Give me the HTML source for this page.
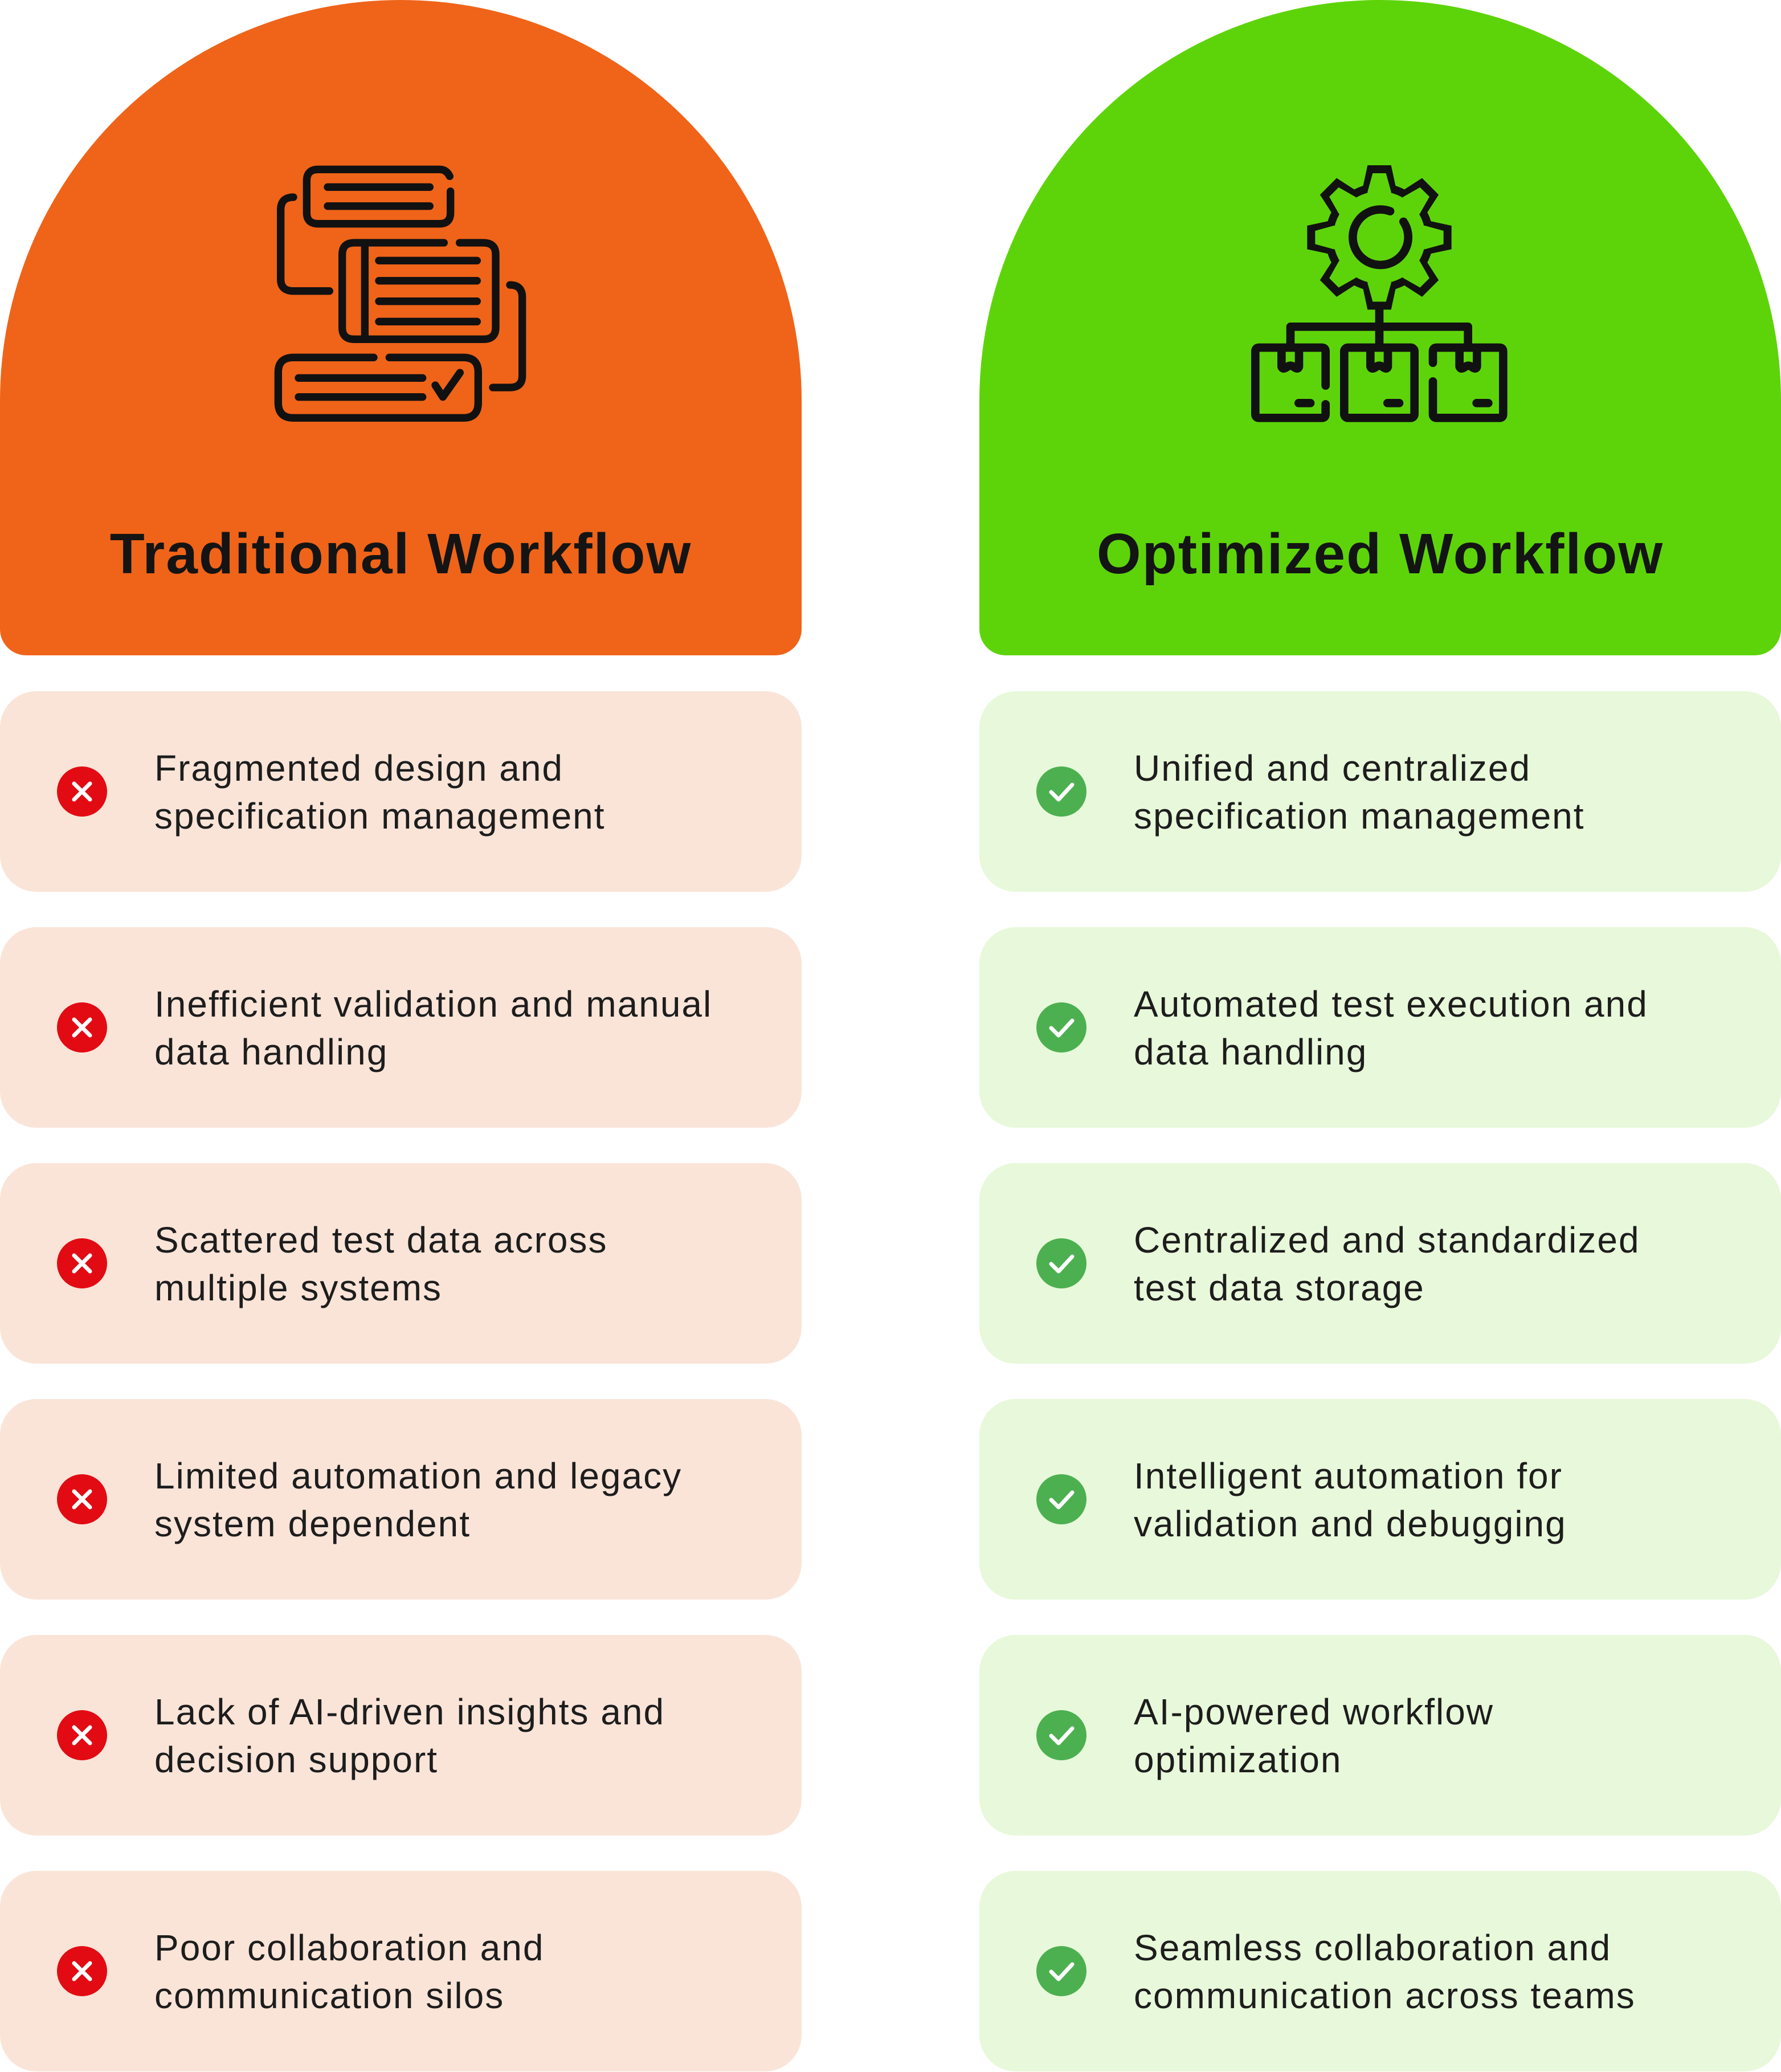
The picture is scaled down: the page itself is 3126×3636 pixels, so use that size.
<!DOCTYPE html>
<html><head><meta charset="utf-8"><style>
html,body{margin:0;padding:0;background:#fff;}
body{width:3126px;height:3636px;position:relative;overflow:hidden;font-family:"Liberation Sans",sans-serif;}
.hdr{position:absolute;top:0;width:1407px;height:1150px;border-radius:703px 703px 46px 46px;}
.title{position:absolute;top:915px;width:1407px;text-align:center;font-weight:bold;font-size:100px;color:#141414;letter-spacing:2px;}
.row{position:absolute;width:1407px;height:352px;border-radius:64px;}
.row .t{position:absolute;left:271px;top:93px;font-size:64px;line-height:84px;color:#1d1d1d;letter-spacing:2px;}
.row svg{position:absolute;left:100px;top:132px;}
</style></head><body>
<div class="hdr" style="left:0;background:#EF6419"></div>
<div class="hdr" style="left:1719px;background:#5DD40A"></div>
<div class="title" style="left:0">Traditional Workflow</div>
<div class="title" style="left:1719px">Optimized Workflow</div>

<svg style="position:absolute;left:470px;top:270px" width="480" height="480" viewBox="0 0 1440 1440" fill="none" stroke="#111" stroke-width="40" stroke-linecap="round" stroke-linejoin="round">
<path d="M958,118 Q940,82 905,82 H265 Q205,82 205,142 V310 Q205,368 265,368 H905 Q962,368 962,310 V197"/>
<path d="M315,175 H853 M315,275 H853"/>
<path d="M135,228 Q68,228 68,295 V660 Q68,722 135,722 H325"/>
<path d="M928,468 H455 Q392,468 392,530 V915 Q392,976 455,976 H1135 Q1200,976 1200,915 V530 Q1200,468 1135,468 H1010"/>
<path d="M511,468 V976 M585,562 H1102 M585,668 H1102 M585,776 H1102 M585,883 H1102"/>
<path d="M1275,690 Q1340,690 1340,755 V1168 Q1340,1230 1275,1230 H1185"/>
<path d="M558,1072 H135 Q55,1072 55,1150 V1310 Q55,1390 135,1390 H1030 Q1108,1390 1108,1310 V1150 Q1108,1072 1030,1072 H640"/>
<path d="M162,1180 H815 M162,1280 H815 M882,1218 L922,1280 L1012,1152"/>
</svg>

<svg style="position:absolute;left:2180px;top:270px" width="480" height="480" viewBox="0 0 1440 1440">
<g transform="translate(723,440)">
<g fill="#111">
<circle r="285"/>
<g id="tb"><polygon points="-90,-200 -90,-250 -62,-380 62,-380 90,-250 90,-200"/></g>
<use href="#tb" transform="rotate(45)"/><use href="#tb" transform="rotate(90)"/><use href="#tb" transform="rotate(135)"/><use href="#tb" transform="rotate(180)"/><use href="#tb" transform="rotate(225)"/><use href="#tb" transform="rotate(270)"/><use href="#tb" transform="rotate(315)"/>
</g>
<g fill="#5DD40A">
<circle r="243"/>
<g id="tg"><polygon points="-62,-180 -62,-240 -35,-338 35,-338 62,-240 62,-180"/></g>
<use href="#tg" transform="rotate(45)"/><use href="#tg" transform="rotate(90)"/><use href="#tg" transform="rotate(135)"/><use href="#tg" transform="rotate(180)"/><use href="#tg" transform="rotate(225)"/><use href="#tg" transform="rotate(270)"/><use href="#tg" transform="rotate(315)"/>
</g>
</g>
<g fill="none" stroke="#111" stroke-width="44" stroke-linecap="round" stroke-linejoin="round">
<path d="M780,302 A146,146 0 1 0 850,357"/>
<path d="M723,800 V1000 M255,1000 V910 H1190 V1000"/>
<path d="M440,1220 V1040 Q440,1020 420,1020 H90 Q70,1020 70,1040 V1370 Q70,1390 90,1390 H420 Q440,1390 440,1370 V1318"/>
<rect x="538" y="1020" width="370" height="370" rx="20"/>
<path d="M1005,1100 V1040 Q1005,1020 1025,1020 H1355 Q1375,1020 1375,1040 V1370 Q1375,1390 1355,1390 H1025 Q1005,1390 1005,1370 V1198"/>
<path d="M208,1030 V1120 Q215,1140 240,1120 Q255,1110 270,1120 Q295,1140 300,1120 V1030"/>
<path d="M676,1030 V1120 Q683,1140 708,1120 Q723,1110 738,1120 Q763,1140 768,1120 V1030"/>
<path d="M1145,1030 V1120 Q1152,1140 1177,1120 Q1192,1110 1207,1120 Q1232,1140 1237,1120 V1030"/>
<path d="M298,1312 H360 M766,1312 H828 M1235,1312 H1297"/>
</g>
</svg>

<!-- Left rows -->
<div class="row" style="left:0;top:1213px;background:#FAE4D8"><svg width="88" height="88" viewBox="0 0 88 88"><circle cx="44" cy="44" r="44" fill="#E20B13"/><path d="M30,30 L58,58 M58,30 L30,58" stroke="#fff" stroke-width="7" stroke-linecap="round"/></svg><div class="t">Fragmented design and<br>specification management</div></div>
<div class="row" style="left:0;top:1627px;background:#FAE4D8"><svg width="88" height="88" viewBox="0 0 88 88"><circle cx="44" cy="44" r="44" fill="#E20B13"/><path d="M30,30 L58,58 M58,30 L30,58" stroke="#fff" stroke-width="7" stroke-linecap="round"/></svg><div class="t">Inefficient validation and manual<br>data handling</div></div>
<div class="row" style="left:0;top:2041px;background:#FAE4D8"><svg width="88" height="88" viewBox="0 0 88 88"><circle cx="44" cy="44" r="44" fill="#E20B13"/><path d="M30,30 L58,58 M58,30 L30,58" stroke="#fff" stroke-width="7" stroke-linecap="round"/></svg><div class="t">Scattered test data across<br>multiple systems</div></div>
<div class="row" style="left:0;top:2455px;background:#FAE4D8"><svg width="88" height="88" viewBox="0 0 88 88"><circle cx="44" cy="44" r="44" fill="#E20B13"/><path d="M30,30 L58,58 M58,30 L30,58" stroke="#fff" stroke-width="7" stroke-linecap="round"/></svg><div class="t">Limited automation and legacy<br>system dependent</div></div>
<div class="row" style="left:0;top:2869px;background:#FAE4D8"><svg width="88" height="88" viewBox="0 0 88 88"><circle cx="44" cy="44" r="44" fill="#E20B13"/><path d="M30,30 L58,58 M58,30 L30,58" stroke="#fff" stroke-width="7" stroke-linecap="round"/></svg><div class="t">Lack of AI-driven insights and<br>decision support</div></div>
<div class="row" style="left:0;top:3283px;background:#FAE4D8"><svg width="88" height="88" viewBox="0 0 88 88"><circle cx="44" cy="44" r="44" fill="#E20B13"/><path d="M30,30 L58,58 M58,30 L30,58" stroke="#fff" stroke-width="7" stroke-linecap="round"/></svg><div class="t">Poor collaboration and<br>communication silos</div></div>

<!-- Right rows -->
<div class="row" style="left:1719px;top:1213px;background:#E8F8DA"><svg width="88" height="88" viewBox="0 0 88 88"><circle cx="44" cy="44" r="44" fill="#4CB050"/><path d="M26,45 L39,58 L63,32" fill="none" stroke="#fff" stroke-width="7" stroke-linecap="round" stroke-linejoin="round"/></svg><div class="t">Unified and centralized<br>specification management</div></div>
<div class="row" style="left:1719px;top:1627px;background:#E8F8DA"><svg width="88" height="88" viewBox="0 0 88 88"><circle cx="44" cy="44" r="44" fill="#4CB050"/><path d="M26,45 L39,58 L63,32" fill="none" stroke="#fff" stroke-width="7" stroke-linecap="round" stroke-linejoin="round"/></svg><div class="t">Automated test execution and<br>data handling</div></div>
<div class="row" style="left:1719px;top:2041px;background:#E8F8DA"><svg width="88" height="88" viewBox="0 0 88 88"><circle cx="44" cy="44" r="44" fill="#4CB050"/><path d="M26,45 L39,58 L63,32" fill="none" stroke="#fff" stroke-width="7" stroke-linecap="round" stroke-linejoin="round"/></svg><div class="t">Centralized and standardized<br>test data storage</div></div>
<div class="row" style="left:1719px;top:2455px;background:#E8F8DA"><svg width="88" height="88" viewBox="0 0 88 88"><circle cx="44" cy="44" r="44" fill="#4CB050"/><path d="M26,45 L39,58 L63,32" fill="none" stroke="#fff" stroke-width="7" stroke-linecap="round" stroke-linejoin="round"/></svg><div class="t">Intelligent automation for<br>validation and debugging</div></div>
<div class="row" style="left:1719px;top:2869px;background:#E8F8DA"><svg width="88" height="88" viewBox="0 0 88 88"><circle cx="44" cy="44" r="44" fill="#4CB050"/><path d="M26,45 L39,58 L63,32" fill="none" stroke="#fff" stroke-width="7" stroke-linecap="round" stroke-linejoin="round"/></svg><div class="t">AI-powered workflow<br>optimization</div></div>
<div class="row" style="left:1719px;top:3283px;background:#E8F8DA"><svg width="88" height="88" viewBox="0 0 88 88"><circle cx="44" cy="44" r="44" fill="#4CB050"/><path d="M26,45 L39,58 L63,32" fill="none" stroke="#fff" stroke-width="7" stroke-linecap="round" stroke-linejoin="round"/></svg><div class="t">Seamless collaboration and<br>communication across teams</div></div>
</body></html>
